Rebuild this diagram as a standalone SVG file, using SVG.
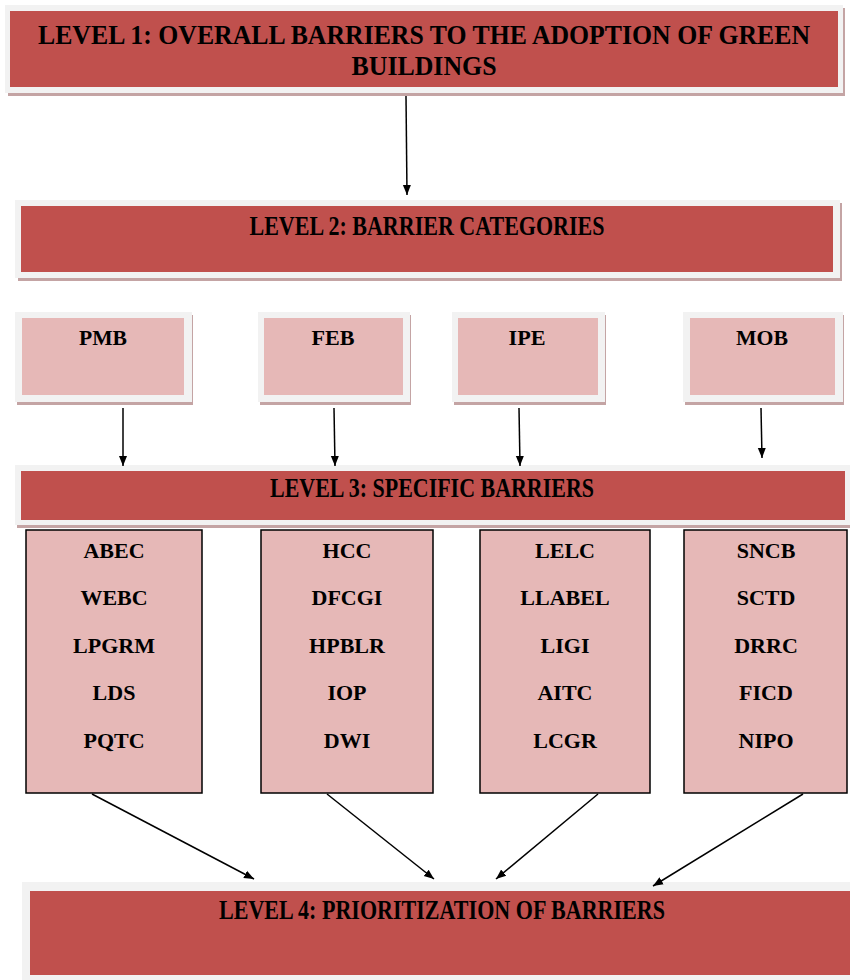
<svg xmlns="http://www.w3.org/2000/svg" width="850" height="980" viewBox="0 0 850 980">
<defs>
<marker id="ah" markerWidth="11" markerHeight="11" refX="10" refY="5.5" orient="auto" markerUnits="userSpaceOnUse">
<path d="M0,1.5 L10,5.5 L0,9.5 Z" fill="#000"/>
</marker>
<style>
.frame{fill:#F2F2F2}
.shadow{fill:#C4A4A4}
.red{fill:#C0504D}
.pink{fill:#E6B8B7}
.box{fill:#E6B8B7;stroke:#000;stroke-width:1.5}
.h{font-family:"Liberation Serif","Times New Roman",serif;font-weight:bold;font-size:27px;fill:#000;text-anchor:middle}
.t{font-family:"Liberation Serif","Times New Roman",serif;font-weight:bold;font-size:22px;fill:#000;text-anchor:middle}
.c{stroke:#000;stroke-width:1.5;fill:none;marker-end:url(#ah)}
</style>
</defs>
<rect width="850" height="980" fill="#fff"/>

<g id="level1">
<rect class="shadow" x="8" y="8" width="837" height="88"/>
<rect class="frame" x="5" y="5" width="838" height="88"/>
<rect class="red" x="10" y="11" width="828" height="76"/>
<text class="h" x="424" y="44" textLength="772" lengthAdjust="spacingAndGlyphs">LEVEL 1: OVERALL BARRIERS TO THE ADOPTION OF GREEN</text>
<text class="h" x="424" y="75" textLength="145" lengthAdjust="spacingAndGlyphs">BUILDINGS</text>
</g>

<g id="level2">
<rect class="shadow" x="18" y="203" width="824" height="78"/>
<rect class="frame" x="15" y="200" width="825" height="78"/>
<rect class="red" x="21" y="206" width="812" height="66"/>
<text class="h" x="427" y="235" font-size="25" textLength="355" lengthAdjust="spacingAndGlyphs">LEVEL 2: BARRIER CATEGORIES</text>
</g>

<g id="pmb">
<rect class="shadow" x="17" y="315" width="176" height="90"/>
<rect class="frame" x="15" y="312" width="177" height="90"/>
<rect class="pink" x="22" y="318" width="162" height="77"/>
<text class="t" x="103" y="345" font-size="23" textLength="48" lengthAdjust="spacingAndGlyphs">PMB</text>
</g>
<g id="feb">
<rect class="shadow" x="260" y="315" width="151" height="90"/>
<rect class="frame" x="258" y="312" width="152" height="90"/>
<rect class="pink" x="264" y="318" width="139" height="77"/>
<text class="t" x="333" y="345" font-size="23" textLength="43" lengthAdjust="spacingAndGlyphs">FEB</text>
</g>
<g id="ipe">
<rect class="shadow" x="454" y="315" width="152" height="90"/>
<rect class="frame" x="452" y="312" width="153" height="90"/>
<rect class="pink" x="458" y="318" width="140" height="77"/>
<text class="t" x="527" y="345" font-size="23" textLength="37" lengthAdjust="spacingAndGlyphs">IPE</text>
</g>
<g id="mob">
<rect class="shadow" x="685" y="315" width="159" height="90"/>
<rect class="frame" x="683" y="312" width="160" height="90"/>
<rect class="pink" x="690" y="318" width="145" height="77"/>
<text class="t" x="762" y="345" font-size="23" textLength="52" lengthAdjust="spacingAndGlyphs">MOB</text>
</g>

<g id="level3">
<rect class="shadow" x="17" y="468" width="833" height="60"/>
<rect class="frame" x="15" y="465" width="835" height="60"/>
<rect class="red" x="21" y="471" width="824" height="49"/>
<text class="h" x="432" y="497" font-size="25" textLength="324" lengthAdjust="spacingAndGlyphs">LEVEL 3: SPECIFIC BARRIERS</text>
</g>

<g id="specific-pmb">
<rect class="box" x="26" y="530" width="176" height="263"/>
<text class="t" x="114" y="558">ABEC</text>
<text class="t" x="114" y="605">WEBC</text>
<text class="t" x="114" y="653">LPGRM</text>
<text class="t" x="114" y="700">LDS</text>
<text class="t" x="114" y="748">PQTC</text>
</g>
<g id="specific-feb">
<rect class="box" x="261" y="530" width="172" height="263"/>
<text class="t" x="347" y="558">HCC</text>
<text class="t" x="347" y="605">DFCGI</text>
<text class="t" x="347" y="653">HPBLR</text>
<text class="t" x="347" y="700">IOP</text>
<text class="t" x="347" y="748">DWI</text>
</g>
<g id="specific-ipe">
<rect class="box" x="480" y="530" width="170" height="263"/>
<text class="t" x="565" y="558">LELC</text>
<text class="t" x="565" y="605">LLABEL</text>
<text class="t" x="565" y="653">LIGI</text>
<text class="t" x="565" y="700">AITC</text>
<text class="t" x="565" y="748">LCGR</text>
</g>
<g id="specific-mob">
<rect class="box" x="684" y="530" width="163" height="263"/>
<text class="t" x="766" y="558">SNCB</text>
<text class="t" x="766" y="605">SCTD</text>
<text class="t" x="766" y="653">DRRC</text>
<text class="t" x="766" y="700">FICD</text>
<text class="t" x="766" y="748">NIPO</text>
</g>

<g id="level4">
<rect class="frame" x="22" y="882" width="828" height="98"/>
<rect class="red" x="30" y="891" width="820" height="84"/>
<text class="h" x="442" y="919" font-size="25" textLength="446" lengthAdjust="spacingAndGlyphs">LEVEL 4: PRIORITIZATION OF BARRIERS</text>
</g>

<g id="connectors">
<line class="c" x1="406" y1="96" x2="407" y2="195"/>
<line class="c" x1="123" y1="408" x2="123" y2="466"/>
<line class="c" x1="334" y1="408" x2="335" y2="466"/>
<line class="c" x1="519" y1="408" x2="520" y2="466"/>
<line class="c" x1="761" y1="408" x2="762" y2="458"/>
<line class="c" x1="92" y1="794" x2="254" y2="879"/>
<line class="c" x1="327" y1="794" x2="434" y2="879"/>
<line class="c" x1="598" y1="794" x2="496" y2="879"/>
<line class="c" x1="803" y1="794" x2="653" y2="886"/>
</g>
</svg>
